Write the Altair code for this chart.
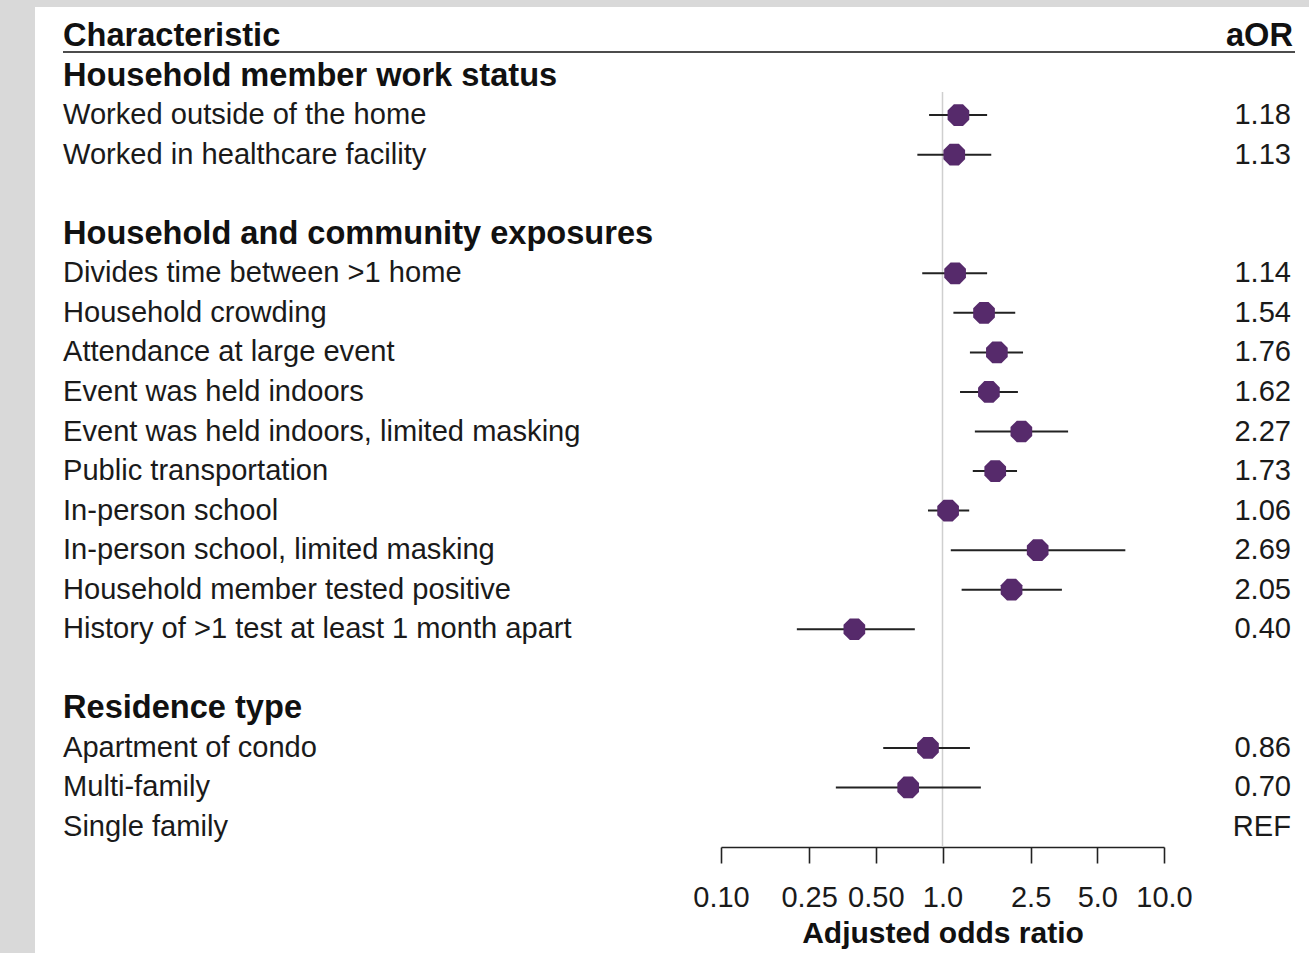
import altair as alt
import pandas as pd

labels = [
    "Characteristic",
    "Household member work status",
    "Worked outside of the home",
    "Worked in healthcare facility",
    "",
    "Household and community exposures",
    "Divides time between >1 home",
    "Household crowding",
    "Attendance at large event",
    "Event was held indoors",
    "Event was held indoors, limited masking",
    "Public transportation",
    "In-person school",
    "In-person school, limited masking",
    "Household member tested positive",
    "History of >1 test at least 1 month apart",
    "",
    "Residence type",
    "Apartment of condo",
    "Multi-family",
    "Single family",
]
is_header = [True, True, False, False, False, True, False, False, False, False, False,
             False, False, False, False, False, False, True, False, False, False]

# estimates (None where no estimate)
aor = [None, None, 1.18, 1.13, None, None, 1.14, 1.54, 1.76, 1.62, 2.27, 1.73, 1.06,
       2.69, 2.05, 0.40, None, None, 0.86, 0.70, None]
lower = [None, None, 0.87, 0.77, None, None, 0.81, 1.12, 1.33, 1.20, 1.40, 1.37, 0.86,
         1.09, 1.22, 0.22, None, None, 0.54, 0.33, None]
upper = [None, None, 1.59, 1.66, None, None, 1.59, 2.13, 2.31, 2.19, 3.69, 2.17, 1.32,
         6.69, 3.46, 0.75, None, None, 1.33, 1.49, None]
aor_text = ["aOR", "", "1.18", "1.13", "", "", "1.14", "1.54", "1.76", "1.62", "2.27",
            "1.73", "1.06", "2.69", "2.05", "0.40", "", "", "0.86", "0.70", "REF"]

tick_values = [0.1, 0.25, 0.5, 1.0, 2.5, 5.0, 10.0]

rows = list(range(len(labels)))
df = pd.DataFrame({
    "row": rows, "label": labels, "header": is_header,
    "aor": aor, "lower": lower, "upper": upper, "aor_text": aor_text,
})
est = df.dropna(subset=["aor"])

FONT = "Liberation Sans"
PURPLE = "#562a6b"
REG = 29.1
BOLD = 32.6

yscale = alt.Scale(domain=[0, 20], range=[29, 820])
xscale = alt.Scale(type="log", domain=[0.1, 10], range=[686, 1129])

base = alt.Chart(df)

label_reg = base.transform_filter("!datum.header").mark_text(
    align="left", baseline="middle", font=FONT, fontSize=REG, color="#1a1a1a"
).encode(x=alt.value(28), y=alt.Y("row:Q", scale=yscale, axis=None), text="label:N")

label_bold = base.transform_filter("datum.header").mark_text(
    align="left", baseline="middle", font=FONT, fontSize=BOLD, fontWeight="bold", color="#111111"
).encode(x=alt.value(28), y=alt.Y("row:Q", scale=yscale, axis=None), text="label:N")

aor_reg = base.transform_filter("datum.row > 0").mark_text(
    align="right", baseline="middle", font=FONT, fontSize=REG, color="#1a1a1a"
).encode(x=alt.value(1256), y=alt.Y("row:Q", scale=yscale, axis=None), text="aor_text:N")

aor_head = base.transform_filter("datum.row == 0").mark_text(
    align="right", baseline="middle", font=FONT, fontSize=BOLD, fontWeight="bold", color="#111111"
).encode(x=alt.value(1258), y=alt.Y("row:Q", scale=yscale, axis=None), text="aor_text:N")

header_rule = base.transform_filter("datum.row == 0").mark_rule(
    color="#111111", strokeWidth=1.6
).encode(x=alt.value(28), x2=alt.value(1260), y=alt.value(45))

ref_line = base.transform_filter("datum.row == 0").mark_rule(
    color="#cfcfcf", strokeWidth=1.5
).encode(x=alt.datum(1.0, scale=xscale), y=alt.value(85), y2=alt.value(840))

ci = alt.Chart(est).mark_rule(color="#222222", strokeWidth=2).encode(
    x=alt.X("lower:Q", scale=xscale,
            axis=alt.Axis(values=tick_values, title="Adjusted odds ratio",
                          labelExpr="datum.value < 1 ? format(datum.value, '.2f') : format(datum.value, '.1f')",
                          offset=-106, grid=False, domainColor="#222222", domainWidth=1.6,
                          tickColor="#222222", tickWidth=1.6, tickSize=16,
                          labelFont=FONT, labelFontSize=29, labelColor="#1a1a1a", labelPadding=20,
                          titleFont=FONT, titleFontSize=30, titleFontWeight="bold",
                          titleColor="#111111", titlePadding=6, labelFlush=False)),
    x2="upper:Q",
    y=alt.Y("row:Q", scale=yscale, axis=None),
)

octagon = "M-0.42,-1L0.42,-1L1,-0.42L1,0.42L0.42,1L-0.42,1L-1,0.42L-1,-0.42Z"
pts = alt.Chart(est).mark_point(shape=octagon, filled=True, color=PURPLE, opacity=1, size=470).encode(
    x=alt.X("aor:Q", scale=xscale),
    y=alt.Y("row:Q", scale=yscale, axis=None),
)

chart = alt.layer(ref_line, header_rule, ci, pts, label_reg, label_bold, aor_reg, aor_head).properties(
    width=1274, height=946, background="#d9d9d9",
    padding={"left": 35, "top": 7, "right": 0, "bottom": 0},
    autosize=alt.AutoSizeParams(type="none"),
).configure_view(fill="white", stroke=None)

chart.save("out.html", embed_options={"renderer": "svg", "actions": False})
